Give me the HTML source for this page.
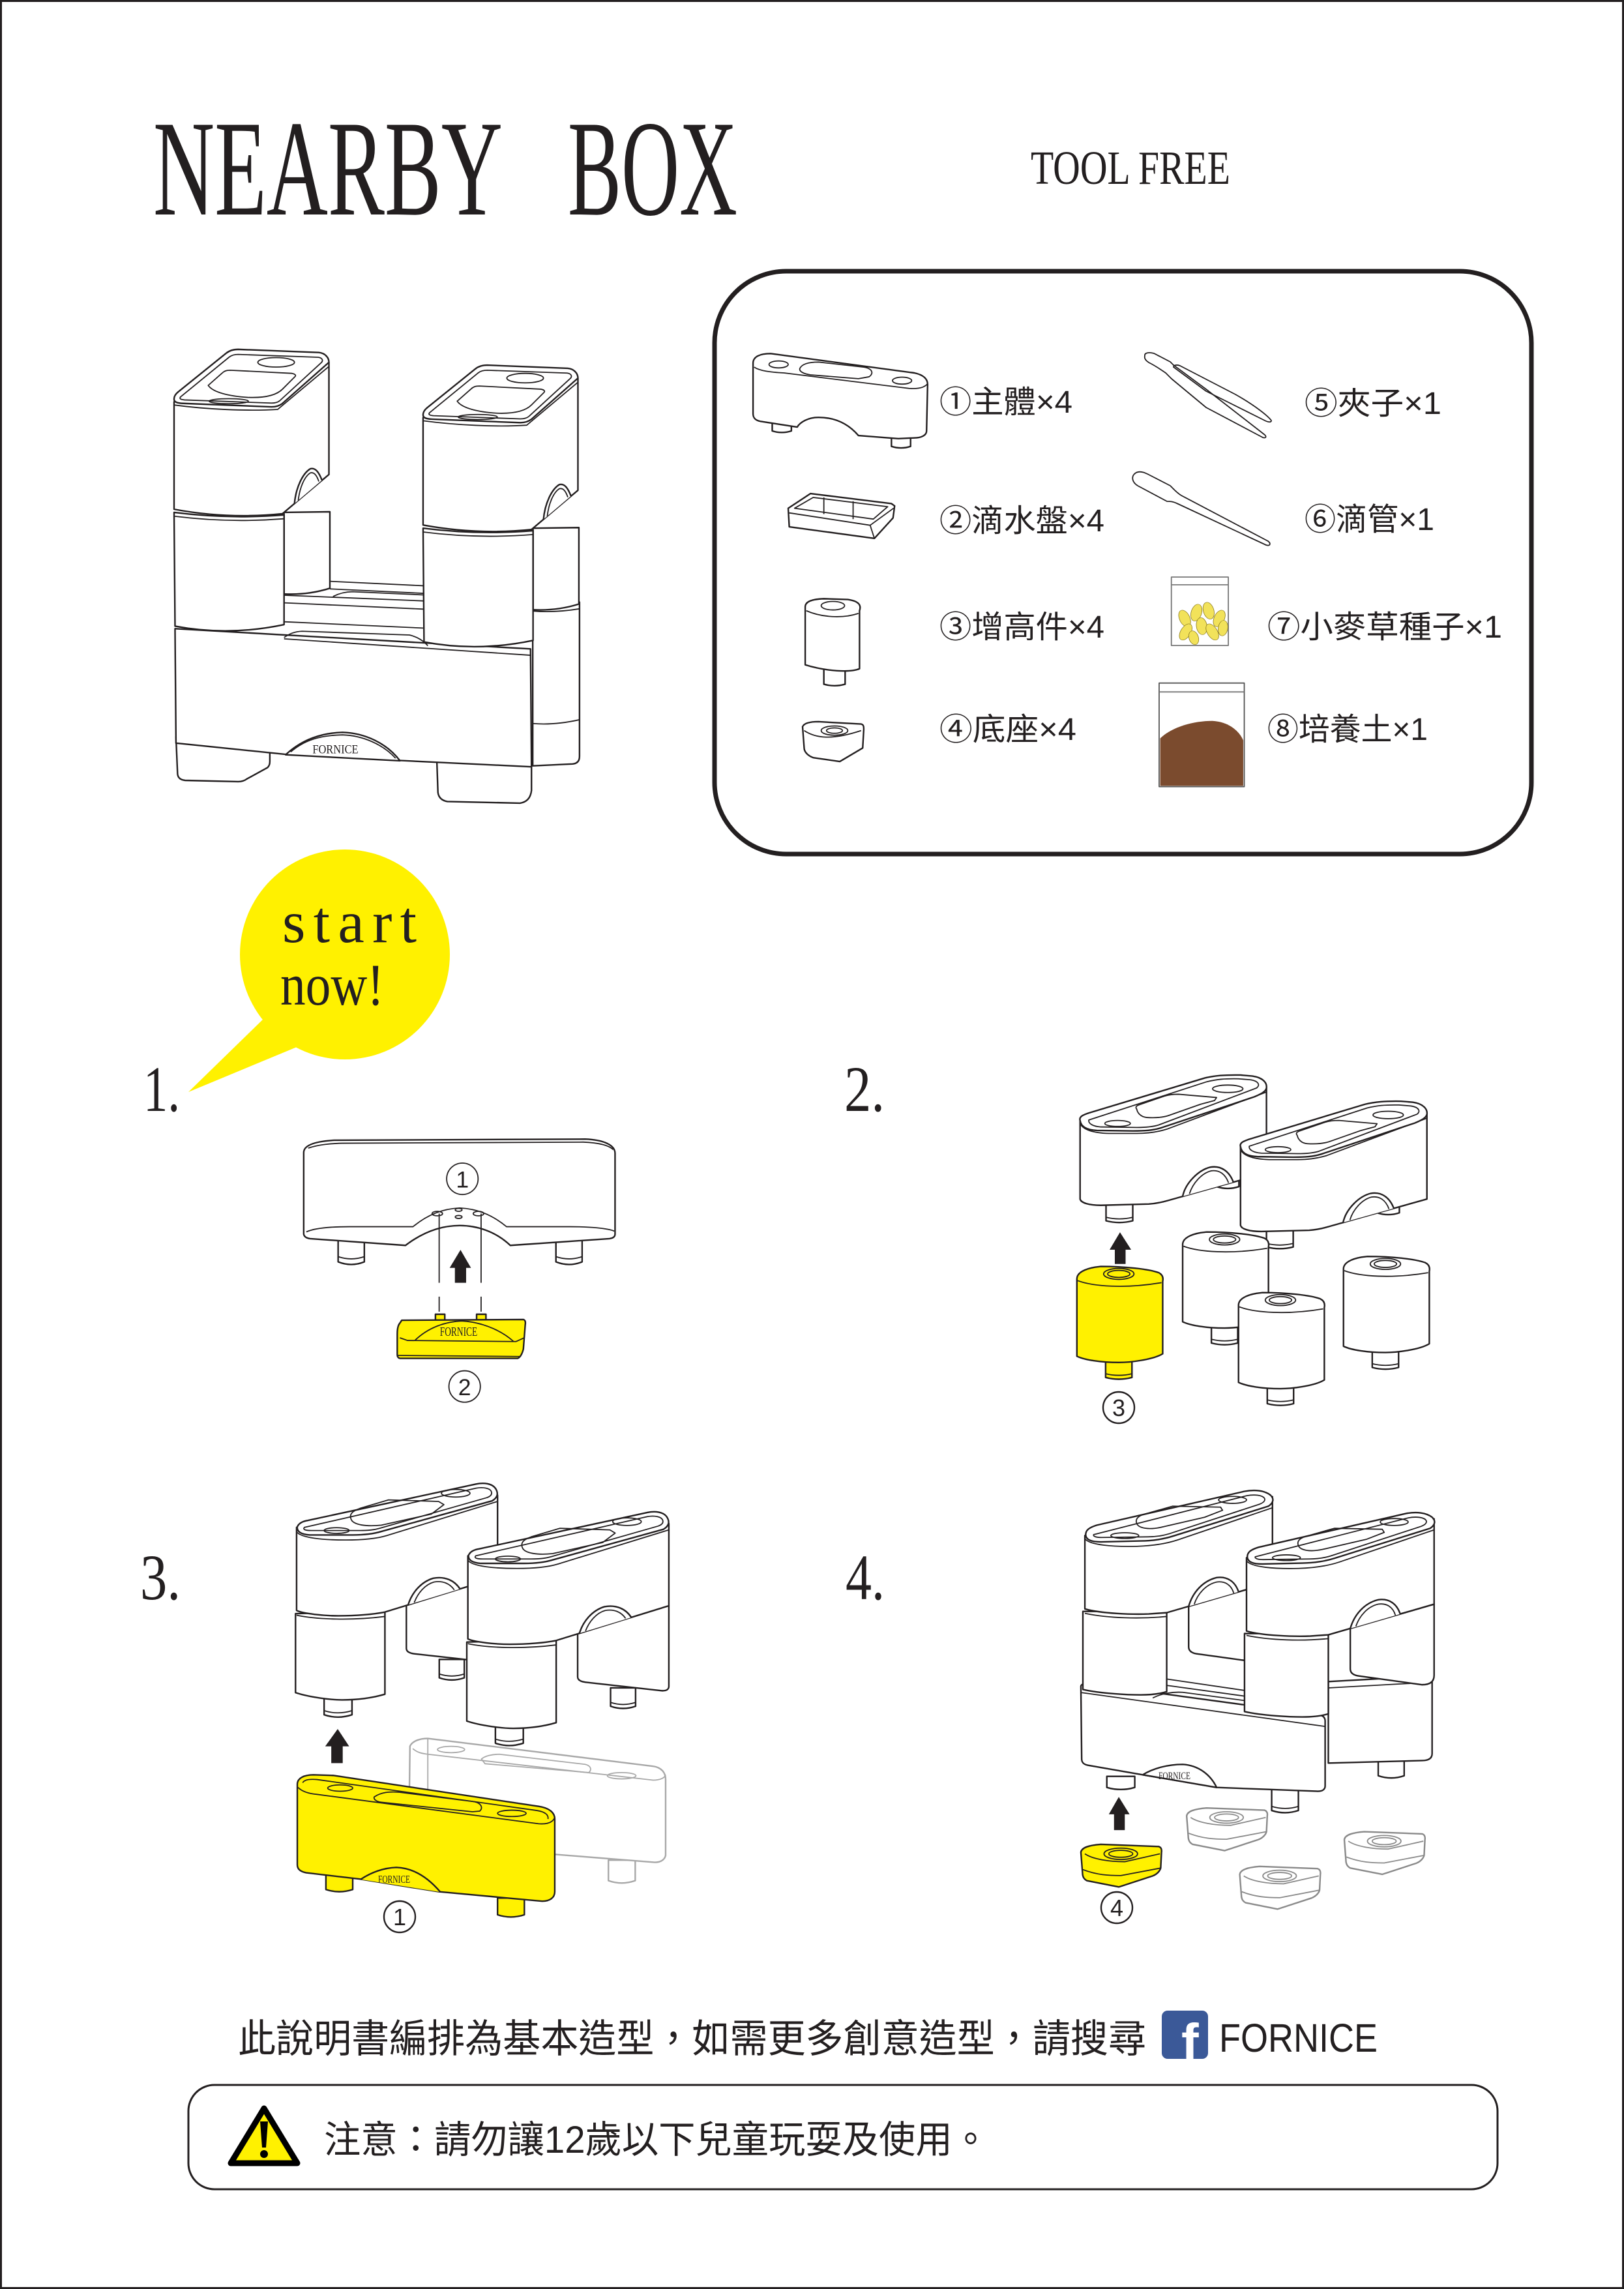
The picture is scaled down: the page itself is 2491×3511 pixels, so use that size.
<!DOCTYPE html>
<html><head><meta charset="utf-8"><style>
html,body{margin:0;padding:0;background:#fff;}
svg{display:block;}
.s{fill:#fff;stroke-width:2.4;vector-effect:non-scaling-stroke;stroke-linejoin:round;}
.k{stroke-width:2.4;vector-effect:non-scaling-stroke;stroke-linejoin:round;}
.n{fill:none;stroke-width:1.8;vector-effect:non-scaling-stroke;stroke-linejoin:round;}
.y{fill:#fff100;stroke-width:2.4;vector-effect:non-scaling-stroke;stroke-linejoin:round;}
.t{font-family:"Liberation Serif","Noto Serif CJK SC",serif;fill:#231f20;stroke:none;}
.c{font-family:"Liberation Sans","Noto Sans CJK TC",sans-serif;fill:#231f20;stroke:none;}
</style></head><body>
<svg width="2491" height="3511" viewBox="0 0 2491 3511" xmlns="http://www.w3.org/2000/svg">
<defs>
<g id="tw">
<path class="s" d="M445,590 L590,588 L590,830 Q520,852 445,848 Z"/>
<path class="s" d="M97,590 Q270,612 445,598 L445,945 Q270,982 100,950 Z"/>
<path class="n" d="M97,602 Q270,624 445,610"/>
<path class="s" d="M97,240 L97,580 Q270,612 440,594 L587,470 L587,115 Z"/>
<path class="s" d="M478,562 C482,515 502,468 528,452 C545,447 556,465 565,488"/>
<path class="n" d="M490,552 C494,515 508,478 528,465 C541,461 549,474 555,492"/>
<path class="s" d="M97,232 C97,222 102,215 112,207 L262,86 C272,78 285,74 300,74 L555,84 C575,86 587,100 587,115 L440,245 C430,253 420,256 405,256 L125,245 C105,244 97,240 97,232 Z"/>
<path class="n" d="M97,238 L97,250 C200,264 330,270 425,264 L587,128"/>
<path class="n" d="M118,224 L272,98 C280,92 290,90 300,90 L553,99 C566,101 570,109 563,116 L432,236 C425,242 415,244 405,244 L130,234 C118,233 112,230 118,224 Z"/>
<path class="n" d="M205,188 L248,150 C255,143 262,140 275,140 L470,150 C480,152 485,156 478,162 L440,200 C420,220 380,228 330,226 C270,222 220,210 205,188 Z"/>
<ellipse class="n" cx="420" cy="115" rx="58" ry="15"/>
<ellipse class="n" cx="270" cy="238" rx="62" ry="8"/>
</g>
<g id="b2">
<path class="s" d="M990,540 L990,575 Q1018,590 1046,575 L1046,540 Z"/>
<path class="s" d="M713,640 L713,712 Q746,726 780,712 L780,640 Z"/>
<path class="n" d="M713,698 Q746,711 780,698"/>
<path class="s" d="M648,310 L648,625 C650,640 670,650 700,650 L820,645 C840,643 855,637 870,630 L1115,520 L1115,180 Z"/>
<path class="s" d="M905,614 C912,560 945,508 975,497 C1002,490 1022,515 1032,557"/>
<path class="n" d="M922,604 C930,562 952,522 976,512 C997,507 1012,525 1020,560"/>
<path class="n" d="M648,322 C655,346 680,360 720,362 L790,362 C820,362 845,355 865,345 L1115,196"/>
<path class="s" d="M648,310 C645,295 655,288 670,280 L960,140 C985,130 1010,127 1050,128 L1080,132 C1105,138 1117,158 1115,180 C1113,195 1100,205 1085,215 L850,340 C830,350 810,352 780,352 L690,350 C665,348 650,335 648,310 Z"/>
<path class="n" d="M670,308 L965,155 C990,145 1010,142 1045,143 L1075,147 C1095,152 1100,168 1090,180 L845,328 C830,336 810,338 790,338 L700,336 C680,334 668,322 670,308 Z"/>
<path class="n" d="M790,265 C785,255 790,250 800,245 L860,212 C870,207 880,205 895,205 L990,218 L985,230 L950,245 L870,290 C855,298 835,300 815,298 C800,296 792,280 790,265 Z"/>
<ellipse class="n" cx="742" cy="322" rx="32" ry="12"/>
<ellipse class="n" cx="1018" cy="183" rx="38" ry="15"/>
</g>
<g id="r2">
<path class="k" d="M712,1255 L712,1340 Q745,1354 778,1340 L778,1255 Z"/>
<path class="k" d="M640,945 C640,920 660,905 685,898 L700,895 C760,895 820,905 845,920 C855,928 857,940 855,955 L855,1245 C830,1270 770,1280 745,1280 C700,1280 660,1270 640,1255 Z"/>
<path class="n" d="M642,952 C680,975 760,985 852,960"/>
<ellipse class="n" cx="745" cy="925" rx="38" ry="22"/>
<ellipse class="n" cx="745" cy="925" rx="28" ry="14"/>
<path class="n" d="M712,1325 Q745,1338 778,1325"/>
</g>
<g id="a3">
<path class="s" d="M882,630 L882,688 Q917,702 952,688 L952,630 Z"/>
<path class="n" d="M882,676 Q917,689 952,676"/>
<path class="s" d="M790,459 L1045,370 L1045,625 Q1045,640 1025,639 L812,612 Q790,609 790,595 Z"/>
<path class="s" d="M560,745 L560,805 Q598,820 638,805 L638,745 Z"/>
<path class="n" d="M560,792 Q598,806 638,792"/>
<path class="s" d="M480,485 L480,735 C520,750 580,758 610,758 C660,758 700,750 730,740 L730,478 Z"/>
<path class="s" d="M483,212 L483,475 C500,485 560,492 600,492 C650,492 700,487 730,480 L1045,370 L1045,110 Z"/>
<path class="n" d="M483,490 C540,504 640,507 730,494"/>
<path class="s" d="M795,457 C805,420 830,385 865,373 C898,366 925,380 940,407"/>
<path class="n" d="M812,450 C822,420 842,393 867,385 C892,380 912,390 924,410"/>
<path class="s" d="M485,210 C490,198 500,193 515,190 L985,75 C1005,70 1030,72 1040,90 C1048,105 1045,118 1030,128 L720,225 C700,232 670,236 640,236 L520,236 C495,234 483,225 485,210 Z"/>
<path class="n" d="M483,226 C495,246 560,252 620,252 C680,252 712,246 735,238 L1045,130"/>
<path class="n" d="M505,212 L985,88 C1005,84 1025,88 1028,100 C1030,108 1025,114 1015,118 L715,215 C700,220 680,222 660,222 L525,222 C505,222 500,218 505,212 Z"/>
<path class="n" d="M635,185 C630,170 640,160 660,152 L740,125 L880,130 L895,140 L860,170 L720,205 C680,210 640,205 635,185 Z"/>
<ellipse class="n" cx="595" cy="222" rx="35" ry="9"/>
<ellipse class="n" cx="928" cy="104" rx="40" ry="12"/>
</g>
<g id="a4t">
<path class="s" d="M920,462 L1130,385 L1130,610 Q1130,640 1100,640 L940,612 Q920,608 920,590 Z"/>
<path class="s" d="M660,238 L660,470 C700,485 780,488 820,486 L865,482 L1130,385 L1130,115 Z"/>
<path class="n" d="M660,484 C720,500 800,502 865,494"/>
<path class="s" d="M920,462 C930,418 955,382 990,371 C1018,366 1037,385 1045,416"/>
<path class="n" d="M934,455 C943,422 963,393 990,385 C1012,381 1027,395 1033,420"/>
<path class="s" d="M662,235 C662,220 672,212 690,205 L1060,98 C1085,92 1110,95 1125,110 C1135,122 1132,135 1120,145 L880,240 C860,248 830,255 800,255 L700,258 C675,258 662,250 662,235 Z"/>
<path class="n" d="M660,248 C672,268 730,274 790,272 C835,270 868,262 892,252 L1130,150"/>
<path class="n" d="M682,235 L1065,112 C1085,107 1105,110 1110,120 C1113,128 1107,134 1097,139 L872,232 C857,238 837,242 817,242 L702,244 C687,244 680,240 682,235 Z"/>
<path class="n" d="M790,200 C785,185 795,175 810,170 L880,145 L1000,148 L1005,158 L960,180 L850,212 C820,220 795,215 790,200 Z"/>
<ellipse class="n" cx="760" cy="238" rx="35" ry="9"/>
<ellipse class="n" cx="1030" cy="125" rx="35" ry="11"/>
</g>
<g id="a4r">
<path class="s" d="M655,478 L655,725 C700,738 770,742 800,742 C830,742 850,738 865,732 L865,478 Z"/>
</g>
<g id="bb">
<path class="k" d="M650,1240 C652,1225 670,1218 700,1215 L845,1222 C852,1225 853,1232 852,1240 L850,1290 C848,1300 840,1310 830,1315 L745,1350 L665,1330 C657,1325 654,1315 654,1305 Z"/>
<path class="n" d="M660,1245 C680,1262 720,1270 760,1270 L848,1245"/>
<path class="n" d="M655,1295 C690,1312 720,1314 750,1314 L850,1290"/>
<ellipse class="n" cx="750" cy="1245" rx="42" ry="18"/>
<ellipse class="n" cx="750" cy="1245" rx="30" ry="11"/>
</g>
</defs>

<rect x="0" y="0" width="2491" height="3511" fill="#fff"/>
<rect x="1.5" y="1.5" width="2488" height="3508" fill="none" stroke="#231f20" stroke-width="3"/>

<text class="t" x="235" y="329" font-size="210" textLength="536" lengthAdjust="spacingAndGlyphs">NEARBY</text>
<text class="t" x="871" y="329" font-size="210" textLength="260" lengthAdjust="spacingAndGlyphs">BOX</text>
<text class="t" x="1581" y="282" font-size="73" textLength="306" lengthAdjust="spacingAndGlyphs">TOOL FREE</text>

<g transform="translate(220,500) scale(0.4847)" stroke="#231f20">
<path class="s" d="M1232,880 L1380,874 L1380,1362 Q1380,1384 1358,1386 L1232,1392 Z"/>
<path class="n" d="M1232,902 Q1300,908 1380,895 M1232,1258 Q1300,1264 1380,1246"/>
<path class="s" d="M103,1300 L108,1418 Q110,1436 132,1438 L300,1442 Q316,1442 328,1433 L392,1398 Q400,1392 400,1378 L400,1330 Z"/>
<path class="s" d="M928,1360 L932,1476 Q935,1500 962,1505 L1192,1510 Q1224,1505 1228,1470 L1228,1380 Z"/>
<path class="s" d="M100,958 L1225,1022 L1228,1395 L810,1375 L445,1355 L103,1320 Z"/>
<path class="n" d="M445,990 L1225,1042"/>
<path class="s" d="M450,1357 C500,1310 560,1288 630,1286 C700,1288 770,1320 812,1376 Z"/>
<path class="n" d="M466,1348 C512,1308 566,1295 630,1294 C694,1296 758,1324 798,1368"/>
<text class="t" x="535" y="1352" font-size="40" textLength="145" lengthAdjust="spacingAndGlyphs">FORNICE</text>
<path class="n" d="M590,808 L885,822 M590,832 L885,846 M600,856 C620,846 640,841 662,841 L885,851 M445,852 L885,870 M445,876 L885,896 M445,936 L885,956 M445,986 C462,974 478,967 502,966 L842,978 C868,984 888,998 900,1012"/>
<use href="#tw"/>
<use href="#tw" transform="translate(788,50)"/>
</g>

<rect x="1096" y="416" width="1253" height="894" rx="110" fill="none" stroke="#231f20" stroke-width="7"/>
<g transform="translate(1080,400) scale(0.8163,0.5931)" stroke="#231f20">
<path class="s" d="M128,412 L128,440 Q146,448 164,440 L164,412 Z"/>
<path class="s" d="M352,450 L352,480 Q370,488 388,480 L388,450 Z"/>
<path class="s" d="M92,265 C92,248 105,240 125,240 L395,290 C412,295 420,305 420,320 L418,440 C418,450 410,458 395,458 L365,460 L290,452 C270,420 245,405 215,405 C195,405 180,418 175,430 L105,415 C95,412 92,405 92,395 Z"/>
<path class="n" d="M94,275 C105,285 125,288 150,290 L385,330 C402,332 414,328 420,318"/>
<path class="n" d="M180,278 C185,265 200,262 215,262 L300,275 C315,278 320,290 310,300 L290,305 L200,295 C185,292 178,285 180,278 Z"/>
<ellipse class="n" cx="140" cy="268" rx="18" ry="9"/>
<ellipse class="n" cx="372" cy="310" rx="18" ry="9"/>
<path class="s" d="M158,640 L200,602 L352,628 L358,634 L355,665 L320,718 L160,688 Z"/>
<path class="n" d="M170,640 L205,612 L345,636 L318,668 Z"/>
<path class="n" d="M160,652 L312,684 L356,640 M312,684 L320,718"/>
<path class="n" d="M225,612 L225,655 M280,622 L280,668"/>
<path class="s" d="M225,1050 L225,1095 Q245,1103 265,1095 L265,1050 Z"/>
<path class="s" d="M190,895 C190,880 205,875 225,874 L270,876 C290,880 296,890 292,905 L292,1055 C275,1065 230,1062 190,1045 Z"/>
<path class="n" d="M192,905 C220,922 260,926 290,912"/>
<ellipse class="n" cx="242" cy="892" rx="22" ry="11"/>
<path class="s" d="M185,1205 C188,1195 200,1192 215,1192 L295,1198 C300,1200 300,1205 300,1212 L298,1260 L255,1295 L205,1285 C195,1280 188,1270 188,1260 Z"/>
<path class="n" d="M188,1215 C210,1235 240,1240 295,1215"/>
<ellipse class="n" cx="245" cy="1215" rx="25" ry="12"/>
<ellipse class="n" cx="245" cy="1215" rx="15" ry="7"/>
<rect class="n" x="878" y="818" width="107" height="177" stroke="#777"/>
<path class="n" d="M878,838 L985,838" stroke="#777"/>
<g fill="#f2e25a" stroke="#8a7a20" stroke-width="1">
<ellipse cx="903" cy="925" rx="10" ry="22" transform="rotate(-15 903 925)"/>
<ellipse cx="925" cy="910" rx="10" ry="22" transform="rotate(10 925 910)"/>
<ellipse cx="948" cy="905" rx="10" ry="22" transform="rotate(-10 948 905)"/>
<ellipse cx="968" cy="925" rx="10" ry="22" transform="rotate(15 968 925)"/>
<ellipse cx="935" cy="945" rx="10" ry="22" transform="rotate(-5 935 945)"/>
<ellipse cx="905" cy="960" rx="10" ry="22" transform="rotate(20 905 960)"/>
<ellipse cx="955" cy="960" rx="10" ry="22" transform="rotate(-20 955 960)"/>
<ellipse cx="975" cy="950" rx="9" ry="20" transform="rotate(5 975 950)"/>
<ellipse cx="920" cy="975" rx="9" ry="18" transform="rotate(-10 920 975)"/>
</g>
<path d="M857,1235 C880,1205 920,1190 955,1190 C985,1192 1005,1215 1013,1240 L1013,1358 L857,1358 Z" fill="#7b4b2e" stroke="none"/>
<rect class="n" x="855" y="1092" width="160" height="268" stroke="#555"/>
<path class="n" d="M855,1115 L1015,1115" stroke="#777"/>
</g>
<g stroke="#231f20">
<path class="n" stroke-width="2.4" d="M1756,546 C1755,541 1762,540 1770,542 L1795,555 L1800,560 L1850,597 L1940,667 C1944,671 1940,673 1935,670 L1850,625 L1797,581 L1788,572 C1778,565 1770,560 1762,556 C1756,552 1755,549 1756,546 Z"/>
<path class="n" stroke-width="2.4" d="M1800,563 C1800,560 1805,559 1810,561 L1895,605 C1925,622 1945,638 1950,645 C1950,648 1946,648 1940,645 L1850,600 Z"/>
<path class="n" stroke-width="2.4" d="M1740,727 C1745,722 1752,723 1760,727 L1795,745 C1800,750 1805,756 1812,760 L1945,830 C1950,834 1948,838 1942,836 L1805,772 C1798,769 1795,769 1790,769 L1745,745 C1737,740 1735,732 1740,727 Z"/>
</g>
<text class="c" x="1441" y="633" font-size="48" textLength="204" lengthAdjust="spacingAndGlyphs">①主體×4</text>
<text class="c" x="2001" y="635" font-size="48" textLength="210" lengthAdjust="spacingAndGlyphs">⑤夾子×1</text>
<text class="c" x="1441" y="815" font-size="48" textLength="253" lengthAdjust="spacingAndGlyphs">②滴水盤×4</text>
<text class="c" x="2001" y="813" font-size="48" textLength="199" lengthAdjust="spacingAndGlyphs">⑥滴管×1</text>
<text class="c" x="1441" y="978" font-size="48" textLength="253" lengthAdjust="spacingAndGlyphs">③增高件×4</text>
<text class="c" x="1944" y="978" font-size="48" textLength="360" lengthAdjust="spacingAndGlyphs">⑦小麥草種子×1</text>
<text class="c" x="1441" y="1135" font-size="48" textLength="210" lengthAdjust="spacingAndGlyphs">④底座×4</text>
<text class="c" x="1944" y="1135" font-size="48" textLength="246" lengthAdjust="spacingAndGlyphs">⑧培養土×1</text>

<circle cx="529" cy="1464" r="161" fill="#fff100"/>
<polygon points="407,1560 289,1675 460,1604 470,1580" fill="#fff100"/>
<text class="t" x="433" y="1445" font-size="91" textLength="206" lengthAdjust="spacing">start</text>
<text class="t" x="430" y="1541" font-size="91" textLength="159" lengthAdjust="spacingAndGlyphs">now!</text>

<text class="t" x="220" y="1704" font-size="100" textLength="56" lengthAdjust="spacingAndGlyphs">1.</text>
<text class="t" x="1295" y="1704" font-size="100" textLength="62" lengthAdjust="spacingAndGlyphs">2.</text>
<text class="t" x="215" y="2453" font-size="100" textLength="62" lengthAdjust="spacingAndGlyphs">3.</text>
<text class="t" x="1297" y="2453" font-size="100" textLength="60" lengthAdjust="spacingAndGlyphs">4.</text>

<g transform="translate(180,1280) scale(0.574)" stroke="#231f20">
<path class="s" d="M578,1060 L578,1078 L590,1080 L590,1142 Q625,1156 660,1142 L660,1080 L672,1078 L672,1060 Z"/>
<path class="n" d="M590,1128 Q625,1140 660,1128"/>
<path class="s" d="M1160,1060 L1160,1078 L1172,1080 L1172,1142 Q1207,1156 1242,1142 L1242,1080 L1254,1078 L1254,1060 Z"/>
<path class="n" d="M1172,1128 Q1207,1140 1242,1128"/>
<path class="s" d="M498,850 C498,830 530,820 580,817 L1250,814 C1300,816 1330,830 1330,852 L1330,1068 Q1330,1078 1315,1080 L1050,1098 C1010,1060 960,1045 915,1045 C870,1045 820,1060 770,1098 L515,1080 Q500,1078 498,1068 Z"/>
<path class="n" d="M510,838 C540,828 570,826 600,825 L1245,822 C1290,824 1315,832 1325,842"/>
<path class="n" d="M505,1062 C530,1050 580,1048 620,1048 L790,1048 C830,1015 870,1000 915,998 C960,1000 1000,1015 1040,1048 L1210,1048 C1260,1048 1310,1052 1328,1060"/>
<ellipse class="n" cx="855" cy="1013" rx="14" ry="6"/>
<ellipse class="n" cx="965" cy="1013" rx="14" ry="6"/>
<ellipse class="n" cx="912" cy="1003" rx="9" ry="4"/>
<ellipse class="n" cx="912" cy="1022" rx="9" ry="4"/>
<circle class="n" cx="922" cy="920" r="42" stroke-width="2.6"/>
<text class="c" x="922" y="943" font-size="62" text-anchor="middle">1</text>
<path class="n" d="M860,1013 L860,1198 M972,1013 L972,1198"/>
<path class="n" d="M860,1235 L860,1275 M972,1235 L972,1275"/>
<polygon points="902,1198 932,1198 932,1158 945,1158 917,1110 888,1158 902,1158" fill="#231f20" stroke="none"/>
<path class="y" d="M850,1282 L875,1282 L875,1298 L850,1298 Z M960,1282 L985,1282 L985,1298 L960,1298 Z"/>
<path class="y" d="M760,1298 L1085,1296 Q1092,1298 1090,1310 L1085,1375 Q1080,1395 1070,1400 L755,1400 Q748,1398 748,1390 L748,1335 Q748,1318 752,1310 Z"/>
<path class="n" d="M755,1345 L775,1352 L1065,1355 L1087,1345"/>
<path class="n" d="M795,1352 C830,1318 875,1302 920,1300 C965,1302 1020,1320 1058,1354"/>
<path class="n" d="M750,1392 L1078,1395"/>
<text class="t" x="862" y="1340" font-size="34" textLength="100" lengthAdjust="spacingAndGlyphs">FORNICE</text>
<circle class="n" cx="928" cy="1475" r="42" stroke-width="2.6"/>
<text class="c" x="928" y="1498" font-size="62" text-anchor="middle">2</text>
</g>

<g transform="translate(1260,1600) scale(0.6122,0.3827)" stroke="#231f20">
<use href="#b2"/>
<use href="#b2" transform="translate(402,105)"/>
<use href="#r2" fill="#fff" transform="translate(265,-138)"/>
<use href="#r2" fill="#fff" transform="translate(668,-40)"/>
<use href="#r2" fill="#fff" transform="translate(405,105)"/>
<use href="#r2" fill="#fff100"/>
<polygon points="735,885 762,885 762,828 776,828 748,758 722,828 735,828" fill="#231f20" stroke="none"/>
</g>
<circle cx="1716" cy="2159" r="24" fill="none" stroke="#231f20" stroke-width="2.4"/>
<text class="c" x="1716" y="2172" font-size="36" text-anchor="middle">3</text>

<g transform="translate(190,2240) scale(0.5485,0.4847)" stroke="#231f20">
<g stroke="#a8a8a8">
<path class="s" d="M1355,1265 L1355,1330 Q1392,1345 1430,1330 L1430,1265 Z"/>
<path class="s" d="M800,905 C805,890 825,880 850,880 L1480,968 C1505,972 1515,990 1515,1010 L1515,1250 C1512,1265 1500,1272 1485,1272 L850,1215 L810,1210 C800,1208 797,1200 797,1190 Z"/>
<path class="n" d="M850,882 L850,1215 M808,912 C820,925 835,928 850,930 L1480,1012 C1500,1012 1512,1005 1515,995"/>
<path class="n" d="M1000,945 C1010,935 1030,930 1050,930 L1290,962 C1305,966 1310,978 1300,988 L1010,960 Z"/>
<ellipse class="n" cx="915" cy="915" rx="38" ry="10"/>
<ellipse class="n" cx="1392" cy="998" rx="40" ry="10"/>
</g>
<use href="#a3"/>
<use href="#a3" transform="translate(479,90)"/>
<path class="y" d="M565,1310 L565,1358 Q602,1372 640,1358 L640,1310 Z"/>
<path class="y" d="M1045,1385 L1045,1438 Q1082,1452 1120,1438 L1120,1385 Z"/>
<path class="y" d="M485,1025 C485,1005 505,995 530,995 L585,997 L1160,1095 C1190,1100 1205,1115 1205,1135 L1205,1365 C1205,1385 1190,1395 1170,1395 L880,1365 L660,1325 L510,1305 C495,1302 485,1295 485,1280 Z"/>
<path class="n" d="M487,1035 C500,1050 520,1055 540,1057 L1160,1150 C1185,1152 1200,1145 1205,1130"/>
<path class="n" d="M500,1020 C505,1010 520,1008 540,1010 L1155,1108 C1178,1112 1188,1122 1186,1135"/>
<path class="n" d="M700,1065 C720,1050 740,1048 770,1050 L980,1080 C1000,1085 1005,1100 995,1110 L975,1112 L720,1082 C705,1080 698,1072 700,1065 Z"/>
<ellipse class="n" cx="605" cy="1037" rx="35" ry="10"/>
<ellipse class="n" cx="1085" cy="1117" rx="40" ry="10"/>
<path class="y" d="M662,1326 C690,1305 722,1290 762,1288 C812,1290 852,1322 885,1366"/>
<polygon points="580,958 612,958 612,905 630,905 598,850 563,905 580,905" fill="#231f20" stroke="none"/>
</g>
<text class="t" x="580" y="2888" font-size="17" textLength="49" lengthAdjust="spacingAndGlyphs">FORNICE</text>
<circle cx="613" cy="2940" r="24" fill="none" stroke="#231f20" stroke-width="2.4"/>
<text class="c" x="613" y="2953" font-size="36" text-anchor="middle">1</text>

<g transform="translate(1260,2240) scale(0.6122,0.4847)" stroke="#231f20">
<path class="s" d="M715,1000 L715,1035 Q750,1048 785,1035 L785,1000 Z"/>
<path class="s" d="M1128,1040 L1128,1108 Q1162,1122 1195,1108 L1195,1040 Z"/>
<path class="n" d="M1128,1095 Q1162,1108 1195,1095"/>
<path class="s" d="M650,715 C650,708 660,705 672,707 L1248,806 C1258,808 1262,815 1262,825 L1262,1030 C1262,1042 1255,1048 1240,1047 L990,1035 L805,995 L668,965 C656,962 652,955 652,945 Z"/>
<path class="n" d="M652,735 L1262,842"/>
<path class="n" d="M865,692 L1060,728 M865,712 L1060,746 M830,752 C850,738 880,732 905,734 L1060,760"/>
<path class="s" d="M805,995 C830,975 868,962 905,962 C945,965 975,995 990,1035 Z"/>
<use href="#a4r"/>
<use href="#a4t"/>
<path class="s" d="M1395,940 L1395,998 Q1428,1012 1460,998 L1460,940 Z"/>
<path class="s" d="M1270,700 L1530,682 L1530,928 C1530,944 1520,950 1505,950 L1270,958 Z"/>
<path class="n" d="M1270,720 L1530,702"/>
<use href="#a4r" transform="translate(405,70)"/>
<use href="#a4t" transform="translate(405,70)"/>
<use href="#bb" fill="#fff" stroke="#8a8a8a" transform="translate(265,-115)"/>
<use href="#bb" fill="#fff" stroke="#8a8a8a" transform="translate(660,-40)"/>
<use href="#bb" fill="#fff" stroke="#8a8a8a" transform="translate(398,70)"/>
<use href="#bb" fill="#fff100"/>
<polygon points="733,1170 760,1170 760,1120 772,1120 745,1065 720,1120 733,1120" fill="#231f20" stroke="none"/>
</g>
<text class="t" x="1777" y="2729" font-size="16" textLength="49" lengthAdjust="spacingAndGlyphs">FORNICE</text>
<circle cx="1713" cy="2926" r="24" fill="none" stroke="#231f20" stroke-width="2.4"/>
<text class="c" x="1713" y="2939" font-size="36" text-anchor="middle">4</text>

<text class="c" x="365" y="3148" font-size="60" textLength="1393" lengthAdjust="spacingAndGlyphs">此說明書編排為基本造型，如需更多創意造型，請搜尋</text>
<rect x="1782" y="3084" width="71" height="74" rx="9" fill="#3b5998"/>
<text x="1812" y="3160" font-family="Liberation Sans, sans-serif" font-weight="bold" font-size="80" fill="#fff">f</text>
<text class="c" x="1870" y="3147" font-size="61" textLength="243" lengthAdjust="spacingAndGlyphs">FORNICE</text>

<rect x="289" y="3198" width="2008" height="160" rx="40" fill="none" stroke="#231f20" stroke-width="3"/>
<path d="M405,3234 L354,3318 L456,3318 Z" fill="#fff100" stroke="#000" stroke-width="9" stroke-linejoin="round"/>
<path d="M399,3254 L411,3254 L408,3294 L402,3294 Z" fill="#000"/>
<circle cx="405" cy="3304" r="6" fill="#000"/>
<text class="c" x="497" y="3302" font-size="58" textLength="1020" lengthAdjust="spacingAndGlyphs">注意：請勿讓12歲以下兒童玩耍及使用。</text>
</svg>
</body></html>
